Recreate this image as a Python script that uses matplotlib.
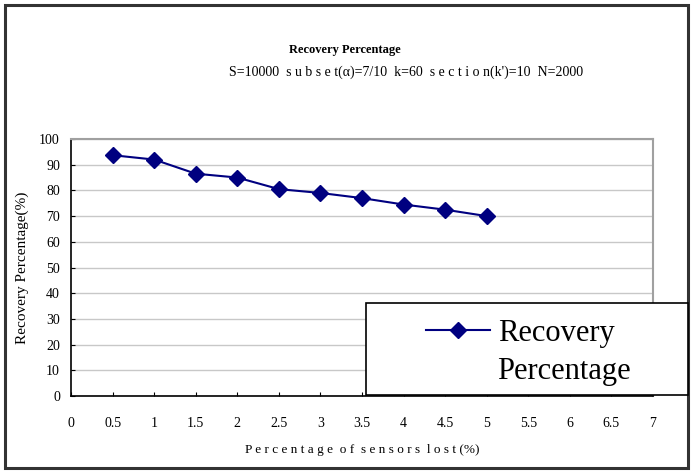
import matplotlib.pyplot as plt
from matplotlib.patches import Rectangle

# data
lost_pct = [0.5, 1, 1.5, 2, 2.5, 3, 3.5, 4, 4.5, 5]
recovery = [93.7, 92, 86.5, 85, 80.5, 79, 77, 74.5, 72.5, 70]
x_ticks = [0, 0.5, 1, 1.5, 2, 2.5, 3, 3.5, 4, 4.5, 5, 5.5, 6, 6.5, 7]
y_ticks = list(range(0, 101, 10))

plt.rcParams['font.family'] = ['Liberation Serif', 'DejaVu Serif']

W, H = 694, 473
fig = plt.figure(figsize=(W / 100, H / 100), dpi=100)

# outer border of the chart area
fig.patches.append(Rectangle((5 / W, 1 - 468 / H), 683 / W, 463 / H,
                             transform=fig.transFigure, fill=False,
                             edgecolor='#333333', linewidth=2.2))

ax = fig.add_axes([71 / W, 1 - 396 / H, (653 - 71) / W, (396 - 139) / H])
ax.plot(lost_pct, recovery, color='#000080', linewidth=1.5,
        marker='D', markersize=8, label='Recovery')

ax.set_xlim(0, 7)
ax.set_ylim(0, 100)
ax.set_xticks(x_ticks)
ax.set_xticklabels([f'{v:g}' for v in x_ticks])
ax.set_yticks(y_ticks)
ax.tick_params(direction='in', length=3, labelsize=10, colors='black')
ax.tick_params(axis='x', pad=15)
ax.tick_params(axis='y', pad=8)
ax.grid(True, axis='y', color='#c8c8c8', linewidth=1)
ax.set_axisbelow(True)

for side in ['top', 'right']:
    ax.spines[side].set_color('#a0a0a0')
    ax.spines[side].set_linewidth(1.5)
for side in ['left', 'bottom']:
    ax.spines[side].set_color('black')
    ax.spines[side].set_linewidth(1.2)

ax.set_xlabel('P e r c e n t a g e  o f  s e n s o r s  l o s t (%)',
              fontsize=9.5, labelpad=10)
ax.set_ylabel('Recovery Percentage(%)', fontsize=11, labelpad=7)

fig.text(345 / W, 1 - 50 / H, 'Recovery Percentage', ha='center', va='center',
         fontsize=9, fontweight='bold')
fig.text(406 / W, 1 - 72 / H,
         'S=10000  s u b s e t(α)=7/10  k=60  s e c t i o n(k\')=10  N=2000',
         ha='center', va='center', fontsize=10)

# legend box reaching to the outer border
fig.patches.append(Rectangle((366 / W, 1 - 395 / H), 322 / W, 92 / H,
                             transform=fig.transFigure, facecolor='white',
                             edgecolor='black', linewidth=1.2, zorder=5))
leg = fig.legend(loc='center left', bbox_to_anchor=(411 / W, 1 - 333 / H),
                 fontsize=22, frameon=False,
                 handlelength=2.1, handletextpad=0.25, borderpad=0)
leg.set_zorder(6)
# second line of the legend label
fig.text(497 / W, 1 - 371 / H, 'Percentage', ha='left', va='center',
         fontsize=22, zorder=7)

fig.savefig('out.png', dpi=100)
